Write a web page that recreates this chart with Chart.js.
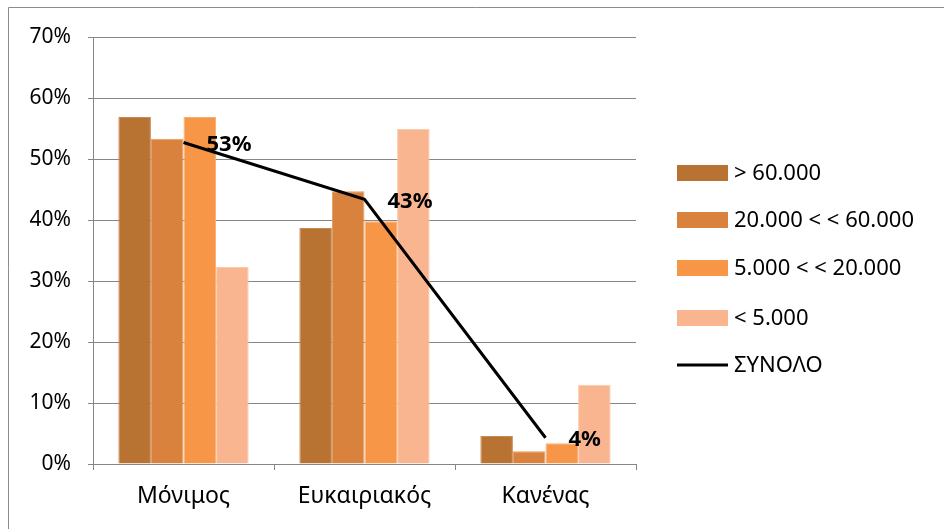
<!DOCTYPE html>
<html>
<head>
<meta charset="utf-8">
<script src="https://cdn.jsdelivr.net/npm/chart.js@4.4.1/dist/chart.umd.min.js"></script>
<style>
  html, body { margin: 0; padding: 0; background: #ffffff; }
  #wrap { position: relative; width: 944px; height: 529px; }
</style>
</head>
<body>
<div id="wrap"><canvas id="c" width="944" height="529"></canvas></div>
<script>
const categories = ['Μόνιμος', 'Ευκαιριακός', 'Κανένας'];
const seriesNames = ['> 60.000', '20.000 < < 60.000', '5.000 < < 20.000', '< 5.000'];
const over60k = [56.9, 38.7, 4.6];
const from20kTo60k = [53.3, 44.7, 2.1];
const from5kTo20k = [56.9, 39.8, 3.4];
const under5k = [32.3, 54.9, 13.0];
const totalName = 'ΣΥΝΟΛΟ';
const totalValues = [52.7, 43.4, 4.3];
const yTicks = [0, 10, 20, 30, 40, 50, 60, 70];

const barColors = ['#B87333', '#D9823E', '#F79646', '#F9B590'];
const barEdgeColors = ['#C98A55', '#E59A5C', '#FAAE6E', '#FBC9AC'];
const FONT = '"Noto Sans", "DejaVu Sans", sans-serif';

const barSeries = [over60k, from20kTo60k, from5kTo20k, under5k];
const datasets = barSeries.map((vals, i) => ({
  type: 'bar',
  label: seriesNames[i],
  data: vals,
  backgroundColor: barColors[i],
  borderColor: barEdgeColors[i],
  borderWidth: 1,
  categoryPercentage: 0.72,
  barPercentage: 1.0,
  order: 2
}));
datasets.push({
  type: 'line',
  label: totalName,
  data: totalValues,
  borderColor: '#000000',
  backgroundColor: '#000000',
  borderWidth: 3,
  pointRadius: 0,
  tension: 0,
  order: 1
});

const framePlugin = {
  id: 'frame',
  beforeDraw(chart) {
    const ctx = chart.ctx;
    ctx.save();
    ctx.strokeStyle = '#8c8c8c';
    ctx.lineWidth = 1;
    ctx.beginPath();
    ctx.moveTo(8.5, 529);
    ctx.lineTo(8.5, 7.5);
    ctx.lineTo(944, 7.5);
    ctx.stroke();
    ctx.restore();
  }
};

const labelPlugin = {
  id: 'lineLabels',
  afterDatasetsDraw(chart) {
    const ctx = chart.ctx;
    const idx = chart.data.datasets.length - 1;
    const meta = chart.getDatasetMeta(idx);
    ctx.save();
    ctx.fillStyle = '#000';
    ctx.font = 'bold 22px ' + FONT;
    ctx.textAlign = 'left';
    ctx.textBaseline = 'middle';
    meta.data.forEach((pt, i) => {
      const v = chart.data.datasets[idx].data[i];
      ctx.fillText(Math.round(v) + '%', pt.x + 23, pt.y + 2);
    });
    ctx.restore();
  }
};

const legendPlugin = {
  id: 'customLegend',
  afterDraw(chart) {
    const ctx = chart.ctx;
    const x0 = 677, boxW = 51, boxH = 16, textX = 734;
    const ys = [173, 220, 268, 318, 365];
    ctx.save();
    ctx.font = '22px ' + FONT;
    ctx.textAlign = 'left';
    ctx.textBaseline = 'middle';
    chart.data.datasets.forEach((ds, i) => {
      const y = ys[i];
      if (ds.type === 'line') {
        ctx.strokeStyle = '#000';
        ctx.lineWidth = 3;
        ctx.beginPath();
        ctx.moveTo(x0, y);
        ctx.lineTo(x0 + boxW, y);
        ctx.stroke();
      } else {
        ctx.fillStyle = ds.backgroundColor;
        ctx.fillRect(x0, y - boxH / 2, boxW, boxH);
      }
      ctx.fillStyle = '#000';
      ctx.fillText(ds.label, textX, y + 1);
    });
    ctx.restore();
  }
};

new Chart(document.getElementById('c'), {
  data: { labels: categories, datasets: datasets },
  options: {
    responsive: false,
    animation: false,
    layout: { padding: { top: 37, right: 308, bottom: 0, left: 0 } },
    plugins: { legend: { display: false }, tooltip: { enabled: false } },
    scales: {
      x: {
        offset: true,
        grid: { display: true, drawOnChartArea: false, drawTicks: true, tickLength: 6, color: '#868686', offset: true },
        border: { display: true, color: '#868686', width: 1 },
        ticks: { color: '#000', font: { family: FONT, size: 23 }, padding: 13 },
        afterFit(s) { s.height = 65; }
      },
      y: {
        min: 0, max: 70,
        afterBuildTicks(s) { s.ticks = yTicks.map(v => ({ value: v })); },
        grid: { color: '#868686', lineWidth: 1, tickLength: 5 },
        border: { display: true, color: '#868686', width: 1 },
        ticks: { color: '#000', font: { family: FONT, size: 21 }, padding: 17, callback: v => v + '%' },
        afterFit(s) { s.width = 93; }
      }
    }
  },
  plugins: [framePlugin, labelPlugin, legendPlugin]
});
</script>
</body>
</html>
